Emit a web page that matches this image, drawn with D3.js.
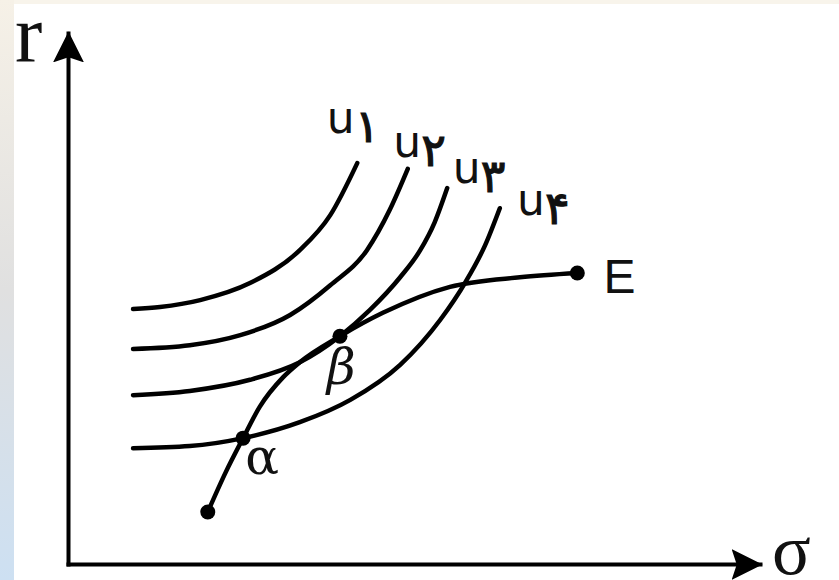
<!DOCTYPE html>
<html>
<head>
<meta charset="utf-8">
<script src="https://cdn.jsdelivr.net/npm/d3@7"></script>
<style>
  html, body { margin: 0; padding: 0; background: #fff; }
  svg { display: block; }
</style>
</head>
<body>
<div id="chart"></div>
<script>
// indifference curves u1..u4 (sigma, r) in 0-100 units
const u1 = [[9.4, 48.0], [13.3, 48.4], [19.1, 49.7], [26.3, 52.9], [33.5, 59.1], [37.9, 65.7], [41.8, 75.5]];
const u2 = [[9.4, 40.5], [17.6, 41.2], [24.9, 43.1], [32.1, 46.9], [37.9, 52.5], [43.2, 59.1], [46.5, 66.7], [49.1, 74.4]];
const u3 = [[9.4, 31.8], [17.6, 32.6], [26.3, 34.7], [33.5, 38.0], [39.3, 42.9], [43.6, 47.8], [48.0, 54.0], [50.9, 59.1], [53.0, 64.4], [54.8, 70.8]];
const u4 = [[9.4, 21.8], [17.6, 22.2], [25.3, 23.7], [33.5, 26.7], [40.8, 30.9], [48.0, 37.5], [53.8, 46.0], [57.4, 53.0], [60.3, 60.1], [62.4, 67.0]];
// efficient frontier from the lowest point up to E
const frontier = [[20.2, 9.8], [22.8, 17.3], [25.3, 23.7], [27.7, 29.6], [31.1, 35.2], [33.5, 38.0], [39.3, 42.9], [45.5, 47.3], [55.2, 52.2], [65.3, 54.0], [73.6, 54.8]];
const curveNames = ["u\u06F1", "u\u06F2", "u\u06F3", "u\u06F4"];
const curveLabelPos = [[37.4, 81.2], [47.0, 76.6], [55.6, 71.8], [64.9, 65.7]];
// marked points: start, alpha, beta, E
const dots = [[20.2, 9.8], [25.3, 23.7], [39.3, 42.9], [73.6, 54.8]];
const pointNames = ["\u03B1", "\u03B2", "E"];
const pointLabelPos = [[25.6, 17.0], [37.4, 33.9], [77.4, 51.1]];

const W = 839, H = 580;
const svg = d3.select("#chart").append("svg")
  .attr("width", W).attr("height", H);

// background strips like the screenshot edges
const defs = svg.append("defs");
const grad = defs.append("linearGradient").attr("id", "side")
  .attr("x1", 0).attr("y1", 0).attr("x2", 0).attr("y2", 1);
grad.append("stop").attr("offset", "0%").attr("stop-color", "#f6f1e7");
grad.append("stop").attr("offset", "50%").attr("stop-color", "#e0e0e0");
grad.append("stop").attr("offset", "100%").attr("stop-color", "#cde0f2");

defs.append("marker")
  .attr("id", "arrow")
  .attr("viewBox", "0 0 30 30")
  .attr("refX", 28).attr("refY", 15)
  .attr("markerWidth", 31).attr("markerHeight", 31)
  .attr("markerUnits", "userSpaceOnUse")
  .attr("orient", "auto")
  .append("path")
  .attr("d", "M0,0 L30,15 L0,30 L5,15 Z")
  .attr("fill", "#000");

const x = d3.scaleLinear().domain([0, 100]).range([68, 760]);
const y = d3.scaleLinear().domain([0, 100]).range([564, 33]);

// axes with no ticks, arrows at the ends
const xAxis = svg.append("g")
  .attr("transform", `translate(0,${y(0)})`)
  .call(d3.axisBottom(x).tickValues([]).tickSizeOuter(0));
const yAxis = svg.append("g")
  .attr("transform", `translate(${x(0)},0)`)
  .call(d3.axisLeft(y).tickValues([]).tickSizeOuter(0));
[xAxis, yAxis].forEach(a => a.select(".domain")
  .attr("stroke", "#000")
  .attr("stroke-width", 4)
  .attr("stroke-linecap", "square")
  .attr("marker-end", "url(#arrow)"));

const line = d3.line()
  .x(d => x(d[0]))
  .y(d => y(d[1]))
  .curve(d3.curveMonotoneX);

svg.append("g").selectAll("path")
  .data([u1, u2, u3, u4, frontier])
  .join("path")
  .attr("d", line)
  .attr("fill", "none")
  .attr("stroke", "#000")
  .attr("stroke-width", 4.5)
  .attr("stroke-linecap", "round");

svg.append("g").selectAll("circle")
  .data(dots)
  .join("circle")
  .attr("cx", d => x(d[0]))
  .attr("cy", d => y(d[1]))
  .attr("r", 7.5)
  .attr("fill", "#000");

// curve labels: u + persian digit set a bit lower
const ul = svg.append("g").selectAll("text")
  .data(curveNames)
  .join("text")
  .attr("x", (d, i) => x(curveLabelPos[i][0]))
  .attr("y", (d, i) => y(curveLabelPos[i][1]))
  .attr("font-family", "DejaVu Sans, sans-serif")
  .attr("font-size", 44)
  .attr("fill", "#111");
ul.append("tspan").text(d => d[0]);
ul.append("tspan").attr("dy", 9).attr("font-size", 46)
  .attr("stroke", "#111").attr("stroke-width", 1.2)
  .text(d => d.slice(1));

// point labels
svg.append("g").selectAll("text")
  .data(pointNames)
  .join("text")
  .attr("x", (d, i) => x(pointLabelPos[i][0]))
  .attr("y", (d, i) => y(pointLabelPos[i][1]))
  .attr("font-family", d => d === "E" ? "Liberation Sans, Arial, sans-serif" : "DejaVu Serif, serif")
  .attr("font-style", d => d === "\u03B2" ? "italic" : "normal")
  .attr("font-size", d => d === "E" ? 48 : 50)
  .attr("fill", "#111")
  .text(d => d);

// axis titles
svg.append("text")
  .attr("x", 15).attr("y", 62)
  .attr("font-family", "Liberation Serif, serif")
  .attr("font-size", 82)
  .attr("fill", "#111")
  .text("r");
svg.append("text")
  .attr("x", 772).attr("y", 574)
  .attr("font-family", "Liberation Serif, serif")
  .attr("font-size", 72)
  .attr("fill", "#111")
  .text("\u03C3");

svg.append("rect").attr("x", 0).attr("y", 0).attr("width", W).attr("height", 4).attr("fill", "#f8f4eb");
svg.append("rect").attr("x", 0).attr("y", 0).attr("width", 14).attr("height", H).attr("fill", "url(#side)");
</script>
</body>
</html>
